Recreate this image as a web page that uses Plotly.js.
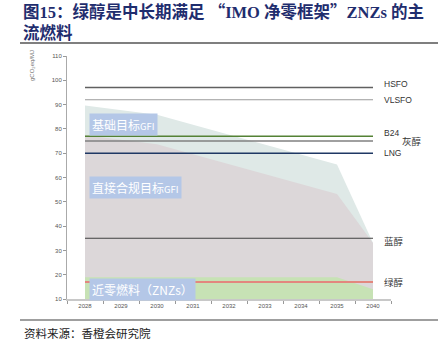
<!DOCTYPE html>
<html><head><meta charset="utf-8">
<script src="https://cdn.plot.ly/plotly-3.0.1.min.js"></script>
<style>html,body{margin:0;padding:0;background:#fff}#c{width:438px;height:354px}</style>
</head><body><div id="c"></div>
<script>
const years = ['2028','2029','2030','2031','2032','2033','2034','2035','2040'];
const baseGFI = [89.6, 87.7, 85.8, 81.7, 77.6, 73.5, 69.4, 65.3, 33];
const directGFI = [77.4, 75.6, 73.7, 69.6, 65.5, 61.4, 57.3, 53.2, 33];
const znzThreshold = [19, 19, 19, 19, 19, 19, 19, 19, 14];
const fuelNames = ['HSFO', 'VLSFO', 'B24', '灰醇', 'LNG', '蓝醇', '绿醇'];
const fuelValues = [97, 92, 77, 75, 70, 35, 17];
const fuelColors = ['#606060', '#9a9a9a', '#548235', '#808080', '#1f3864', '#404040', '#e3877e'];
const fuelWidths = [1.5, 1.2, 1.6, 1.6, 1.6, 1.2, 2];
const fuelLabelY = [98.5, 91.7, 78.3, 75, 70, 33.5, 16.6];
const fuelLabelX = [0.972, 0.972, 0.972, 1.028, 0.972, 0.972, 0.972];
const areaLabels = ['基础目标<span style="font-size:9.5px">GFI</span>', '直接合规目标<span style="font-size:9.5px">GFI</span>', '近零燃料（ZNZs）'];
const areaLabelY = [82, 56, 14];

const traces = [
  {x: years, y: baseGFI, type:'scatter', mode:'lines', fill:'tozeroy', fillcolor:'#dfe9e7', line:{width:0, color:'#dfe9e7'}, hoverinfo:'skip'},
  {x: years, y: directGFI, type:'scatter', mode:'lines', fill:'tozeroy', fillcolor:'#dcd7d9', line:{width:0, color:'#dcd7d9'}, hoverinfo:'skip'},
  {x: years, y: znzThreshold, type:'scatter', mode:'lines', fill:'tozeroy', fillcolor:'#c7e2b5', line:{width:0, color:'#c7e2b5'}, hoverinfo:'skip'}
];
fuelNames.forEach((n,i)=>{
  traces.push({x:[years[0], years[years.length-1]], y:[fuelValues[i], fuelValues[i]], type:'scatter', mode:'lines', line:{color:fuelColors[i], width:fuelWidths[i]}, name:n, hoverinfo:'skip'});
});

const pyToPaper = py => (299 - py) / 243;
const pxToPaper = px => (px - 67) / 324;

const annotations = [];
fuelNames.forEach((n,i)=>{
  annotations.push({xref:'paper', yref:'y', x:fuelLabelX[i], y:fuelLabelY[i], xanchor:'left', yanchor:'middle', showarrow:false, text:n,
    font:{family:'Liberation Sans, Noto Sans CJK SC', size:/[A-Z]/.test(n)?8.5:9.5, color:'#333'}});
});
areaLabels.forEach((t,i)=>{
  annotations.push({xref:'paper', yref:'y', x:pxToPaper(89), y:areaLabelY[i], xanchor:'left', yanchor:'middle', showarrow:false, text:t,
    bgcolor:'#b4c7e7', borderpad:2, font:{family:'Noto Sans CJK SC', size:12, color:'#ffffff'}});
});
const q = s => '<span style="font-family:Noto Sans CJK SC">' + s + '</span>';
annotations.push({xref:'paper', yref:'paper', x:pxToPaper(21), y:pyToPaper(11), xanchor:'left', yanchor:'middle', showarrow:false,
  text:'<b>图15：绿醇是中长期满足 ' + q('“') + 'IMO 净零框架' + q('”') + 'ZNZs 的主</b>', font:{family:'Liberation Serif, Noto Sans CJK SC', size:16.5, color:'#1f2d6e'}});
annotations.push({xref:'paper', yref:'paper', x:pxToPaper(21), y:pyToPaper(33), xanchor:'left', yanchor:'middle', showarrow:false,
  text:'<b>流燃料</b>', font:{family:'Liberation Serif, Noto Sans CJK SC', size:16.5, color:'#1f2d6e'}});
annotations.push({xref:'paper', yref:'paper', x:pxToPaper(22), y:pyToPaper(333), xanchor:'left', yanchor:'middle', showarrow:false,
  text:'资料来源：香橙会研究院', font:{family:'Noto Sans CJK SC', size:11.5, color:'#222'}});
annotations.push({xref:'paper', yref:'paper', x:pxToPaper(32), y:pyToPaper(66), xanchor:'center', yanchor:'middle', showarrow:false, textangle:-90,
  text:'gCO<sub>2</sub>eq/MJ', font:{family:'Liberation Sans', size:6, color:'#777'}});

const shapes = [
  {type:'line', xref:'paper', yref:'paper', x0:pxToPaper(20), x1:pxToPaper(438), y0:pyToPaper(43), y1:pyToPaper(43), line:{color:'#7f7f7f', width:2}},
  {type:'line', xref:'paper', yref:'paper', x0:pxToPaper(20), x1:pxToPaper(438), y0:pyToPaper(320), y1:pyToPaper(320), line:{color:'#7f7f7f', width:1.5}}
];

const layout = {
  width:438, height:354, margin:{l:67, r:47, t:56, b:55},
  paper_bgcolor:'#fff', plot_bgcolor:'#fff', showlegend:false,
  xaxis:{type:'category', range:[-0.5, 8.5], tickson:'boundaries', ticks:'outside', ticklen:3, tickcolor:'#999',
    showline:true, linecolor:'#c8c8c8', linewidth:2, showgrid:false, zeroline:false,
    tickfont:{family:'Liberation Sans', size:6, color:'#555'}},
  yaxis:{range:[10,110], dtick:10, ticks:'outside', ticklen:3, tickcolor:'#999', showline:true, linecolor:'#aaa', linewidth:1,
    showgrid:false, zeroline:false, tickfont:{family:'Liberation Sans', size:6, color:'#555'}},
  annotations, shapes
};
Plotly.newPlot('c', traces, layout, {displayModeBar:false, staticPlot:true});
</script></body></html>
